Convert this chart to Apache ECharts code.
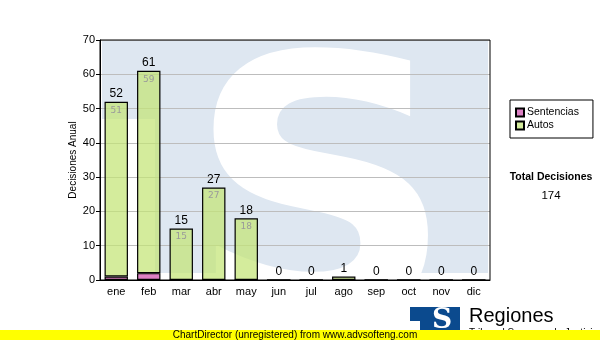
<!DOCTYPE html>
<html><head><meta charset="utf-8">
<script src="https://cdn.jsdelivr.net/npm/echarts@6/dist/echarts.min.js"></script>
<style>html,body{margin:0;padding:0;background:#fff}#c{width:600px;height:340px}</style>
</head><body><div id="c"></div>
<script>
var categories = ['ene','feb','mar','abr','may','jun','jul','ago','sep','oct','nov','dic'];
var sentencias = [1,2,0,0,0,0,0,0,0,0,0,0];
var autos = [51,59,15,27,18,0,0,1,0,0,0,0];
var yMin = 0, yMax = 70, yStep = 10;
var totalLabel = 'Total Decisiones';
var yName = 'Decisiones Anual';

var totals = categories.map(function(_, i){ return sentencias[i] + autos[i]; });
var grand = totals.reduce(function(a,b){return a+b;},0);
var zeros = categories.map(function(){ return 0; });

var chart = echarts.init(document.getElementById('c'), null, {renderer:'canvas'});
var font = 'Liberation Sans, Arial, sans-serif';
chart.setOption({
  animation:false,
  backgroundColor:'#fff',
  grid:{left:100,right:110,top:40,bottom:60,show:true,borderColor:'#000',borderWidth:1,backgroundColor:'transparent',z:3},
  legend:{
    data:['Sentencias','Autos'], orient:'vertical', left:510, top:100, width:80,
    borderColor:'#000', borderWidth:1, padding:[7,14,7,5], itemGap:2,
    itemWidth:8, itemHeight:8, icon:'rect',
    textStyle:{fontFamily:font, fontSize:10.5, color:'#000', padding:[0,0,0,-2]}
  },
  xAxis:{
    type:'category', data:categories,
    axisLine:{lineStyle:{color:'#000',width:1}},
    axisTick:{alignWithLabel:true,length:5,lineStyle:{color:'#000'}},
    axisLabel:{color:'#000',fontSize:11,fontFamily:font,margin:6},
    z:4
  },
  yAxis:{
    type:'value', min:yMin, max:yMax, interval:yStep,
    axisLine:{show:true,lineStyle:{color:'#000'}},
    axisTick:{show:true,length:4,lineStyle:{color:'#000'}},
    axisLabel:{color:'#000',fontSize:11,fontFamily:font,margin:5},
    splitLine:{lineStyle:{color:'#bdbdbd',width:1}}
  },
  series:[
    {name:'Sentencias', type:'bar', stack:'t', data:sentencias, barWidth:'72%',
     itemStyle:{color:'#dd80c4',borderColor:'#000',borderWidth:1.2}},
    {name:'Autos', type:'bar', stack:'t', data:autos,
     itemStyle:{color:'rgba(196,228,118,0.72)',borderColor:'#000',borderWidth:1.2},
     label:{show:true,position:'insideTop',distance:4,fontSize:9,fontFamily:'DejaVu Sans',color:'#9a9a9a',
       formatter:function(p){return p.value>=2?String(p.value):'';}}},
    {name:'Total', type:'bar', stack:'t', data:zeros,
     itemStyle:{color:'transparent',borderWidth:0},
     label:{show:true,position:'top',distance:2,fontSize:12,fontFamily:font,color:'#000',
       formatter:function(p){return String(totals[p.dataIndex]);}}}
  ],
  graphic:[
    {type:'rect', z:-5, silent:true, shape:{x:102,y:41,width:386,height:232}, style:{fill:'#dee7f1'}},
    {type:'rect', z:-5, silent:true, shape:{x:101,y:119,width:54,height:155}, style:{fill:'#ffffff'}},
    {type:'text', z:-4, silent:true, x:321, y:41, scaleX:1.03,
     style:{text:'S', font:'bold 362px "DejaVu Sans"', fill:'#ffffff', align:'center', verticalAlign:'top', lineHeight:362}},
    {type:'text', x:73, y:160, rotation:Math.PI/2, style:{text:yName, fontSize:10, fontFamily:font, fill:'#000', align:'center', verticalAlign:'middle'}},
    {type:'text', x:551, y:177, style:{text:totalLabel, fontSize:10.5, fontWeight:'bold', fontFamily:font, fill:'#000', align:'center', verticalAlign:'middle'}},
    {type:'text', x:551, y:196, style:{text:String(grand), fontSize:11.5, fontFamily:font, fill:'#000', align:'center', verticalAlign:'middle'}},
    {type:'rect', shape:{x:410,y:307,width:50,height:26}, style:{fill:'#0b4a8e'}},
    {type:'rect', shape:{x:410,y:321,width:10,height:12}, style:{fill:'#ffffff'}},
    {type:'text', x:442, y:321, style:{text:'S', fontSize:28, fontWeight:'bold', fontFamily:'DejaVu Serif', fill:'#ffffff', align:'center', verticalAlign:'middle'}},
    {type:'text', x:469, y:316, style:{text:'Regiones', fontSize:20, fontFamily:font, fill:'#000', align:'left', verticalAlign:'middle'}},
    {type:'text', x:469, y:333, style:{text:'Tribunal Supremo de Justicia', fontSize:10, fontFamily:font, fill:'#000', align:'left', verticalAlign:'middle'}},
    {type:'rect', z:10, shape:{x:0,y:330,width:600,height:10}, style:{fill:'#ffff00'}},
    {type:'text', z:11, x:295, y:335, style:{text:'ChartDirector (unregistered) from www.advsofteng.com', fontSize:10, fontFamily:font, fill:'#000', align:'center', verticalAlign:'middle'}}
  ]
});
</script></body></html>
